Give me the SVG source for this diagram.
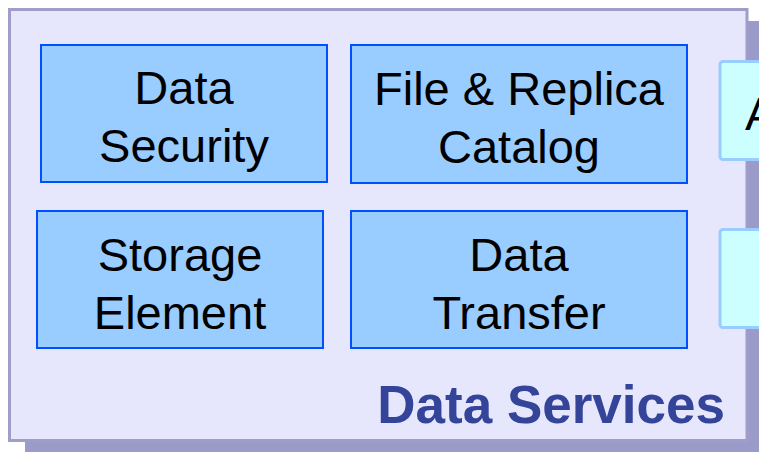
<svg xmlns="http://www.w3.org/2000/svg" width="759" height="452" viewBox="0 0 759 452">
<style>
.svc{fill:#99ccff;stroke:#0050ff;stroke-width:2}
.side{fill:#ccffff;stroke:#99ccff;stroke-width:3}
.t{font-family:"Liberation Sans",Arial,sans-serif;font-size:47px;fill:#000;text-anchor:middle}
.title{font-family:"Liberation Sans",Arial,sans-serif;font-size:53px;font-weight:bold;fill:#334499;text-anchor:end}
</style>
<rect width="759" height="452" fill="#ffffff"/>
<g id="panel">
<rect x="25" y="21" width="745" height="440" fill="#9b9bc9"/>
<rect x="9.5" y="9.5" width="737.5" height="431" fill="#e6e6fd" stroke="#a09ec8" stroke-width="3"/>
<text class="title" x="725" y="423">Data Services</text>
</g>
<g id="side1">
<rect class="side" x="720" y="61.5" width="80" height="98" rx="3"/>
<text class="t" x="745" y="130" style="text-anchor:start">A</text>
</g>
<g id="side2">
<rect class="side" x="720" y="229.5" width="80" height="98" rx="3"/>
</g>
<g id="data-security">
<rect class="svc" x="41" y="45" width="286" height="137"/>
<text class="t" x="184" y="104">Data</text>
<text class="t" x="184" y="162">Security</text>
</g>
<g id="file-replica-catalog">
<rect class="svc" x="351" y="45" width="336" height="138"/>
<text class="t" x="519" y="105">File &amp; Replica</text>
<text class="t" x="519" y="163">Catalog</text>
</g>
<g id="storage-element">
<rect class="svc" x="37" y="211" width="286" height="137"/>
<text class="t" x="180" y="271">Storage</text>
<text class="t" x="180" y="329">Element</text>
</g>
<g id="data-transfer">
<rect class="svc" x="351" y="211" width="336" height="137"/>
<text class="t" x="519" y="271">Data</text>
<text class="t" x="519" y="329">Transfer</text>
</g>
<g id="connectors"/>
</svg>
